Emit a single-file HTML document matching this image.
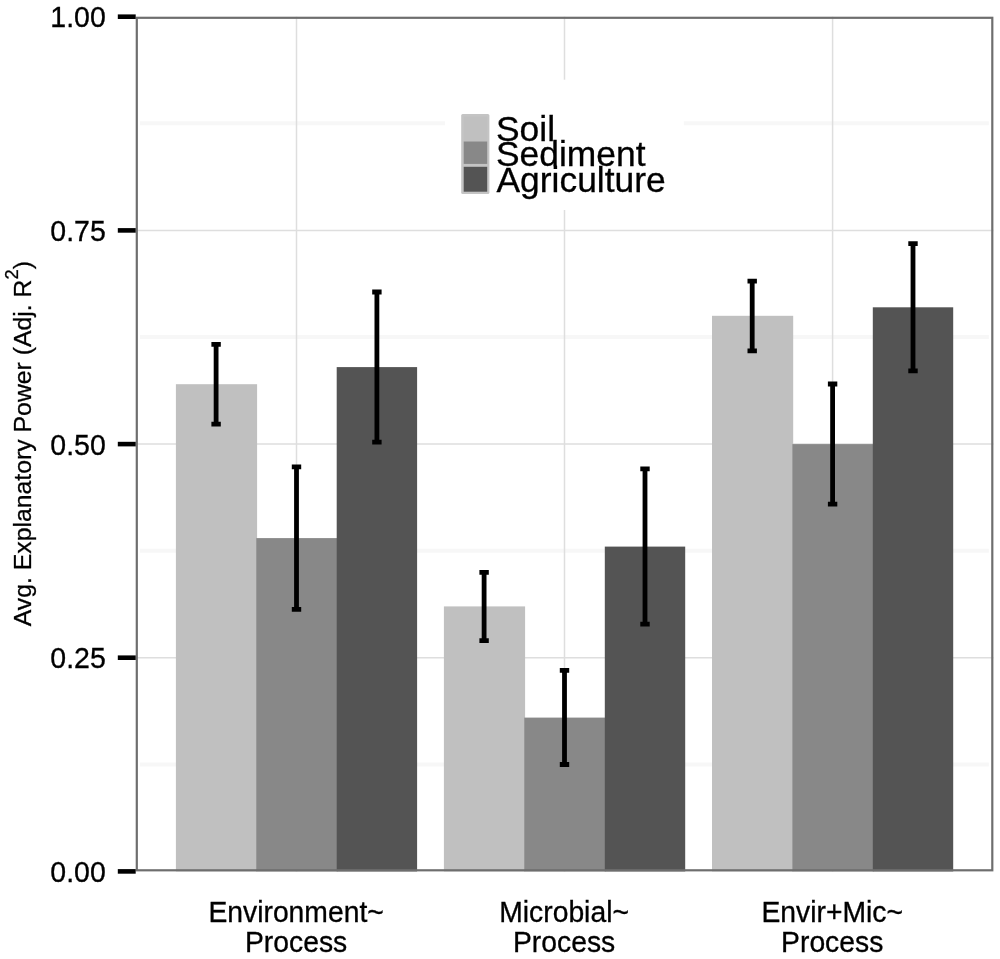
<!DOCTYPE html>
<html><head><meta charset="utf-8"><title>Figure</title>
<style>
html,body{margin:0;padding:0;background:#fff}
svg{display:block;will-change:transform;filter:grayscale(1) blur(.45px)}
text{font-family:"Liberation Sans",Arial,Helvetica,sans-serif;fill:#000;stroke:#000;stroke-width:.3px}
</style></head><body>
<svg width="1000" height="959" viewBox="0 0 1000 959">
<rect width="1000" height="959" fill="#fff"/>
<g stroke="#f7f7f7" stroke-width="4">
<line x1="140" x2="988.8" y1="764.4" y2="764.4"/>
<line x1="140" x2="988.8" y1="550.7" y2="550.7"/>
<line x1="140" x2="988.8" y1="337.0" y2="337.0"/>
<line x1="140" x2="988.8" y1="123.3" y2="123.3"/>
</g>
<g stroke="#dedede" stroke-width="1.5">
<line x1="135.7" x2="993.4" y1="657.7" y2="657.7"/>
<line x1="135.7" x2="993.4" y1="444.1" y2="444.1"/>
<line x1="135.7" x2="993.4" y1="230.4" y2="230.4"/>
<line x1="296.5" x2="296.5" y1="16.7" y2="871.4"/>
<line x1="564.5" x2="564.5" y1="16.7" y2="871.4"/>
<line x1="832.6" x2="832.6" y1="16.7" y2="871.4"/>
</g>
<rect x="175.9" y="384.2" width="81.2" height="487.2" fill="#c0c0c0"/>
<rect x="256.3" y="538.1" width="81.2" height="333.3" fill="#888888"/>
<rect x="336.7" y="367.1" width="80.4" height="504.3" fill="#545454"/>
<rect x="443.9" y="606.4" width="81.2" height="265.0" fill="#c0c0c0"/>
<rect x="524.3" y="717.6" width="81.2" height="153.8" fill="#888888"/>
<rect x="604.8" y="546.6" width="80.4" height="324.8" fill="#545454"/>
<rect x="712.0" y="315.8" width="81.2" height="555.6" fill="#c0c0c0"/>
<rect x="792.4" y="444.1" width="81.2" height="427.3" fill="#888888"/>
<rect x="872.8" y="307.3" width="80.4" height="564.1" fill="#545454"/>
<g stroke="#000" stroke-width="4.8" fill="none">
<path d="M211.4 344.4H220.8M211.4 424.1H220.8M216.1 344.4V424.1"/>
<path d="M291.8 466.8H301.2M291.8 609.4H301.2M296.5 466.8V609.4"/>
<path d="M372.2 292.0H381.6M372.2 442.1H381.6M376.9 292.0V442.1"/>
<path d="M479.4 572.3H488.8M479.4 640.7H488.8M484.1 572.3V640.7"/>
<path d="M559.8 670.4H569.2M559.8 764.5H569.2M564.5 670.4V764.5"/>
<path d="M640.3 468.8H649.7M640.3 624.2H649.7M645.0 468.8V624.2"/>
<path d="M747.5 281.1H756.9M747.5 350.8H756.9M752.2 281.1V350.8"/>
<path d="M827.9 384.0H837.3M827.9 504.2H837.3M832.6 384.0V504.2"/>
<path d="M908.3 243.6H917.7M908.3 370.8H917.7M913.0 243.6V370.8"/>
</g>
<rect x="445" y="79.7" width="238.8" height="130.3" fill="#fff"/>
<rect x="461.2" y="114" width="28.2" height="80" rx="1.5" fill="#c4c4c4"/>
<rect x="463.7" y="116.4" width="23.5" height="25.1" fill="#c0c0c0"/>
<rect x="463.7" y="141.5" width="23.5" height="22.4" fill="#888888"/>
<rect x="463.7" y="166.8" width="23.5" height="24.9" fill="#545454"/>
<text x="496.0" y="140.6" font-size="35.4">Soil</text>
<text x="496.0" y="166.2" font-size="35.4">Sediment</text>
<text x="496.5" y="192.2" font-size="35.4">Agriculture</text>
<rect x="136.8" y="17.8" width="855.5" height="852.5" fill="none" stroke="#6e6e6e" stroke-width="2.2"/>
<g stroke="#000" stroke-width="4.6">
<line x1="117.8" x2="135.7" y1="871.4" y2="871.4"/>
<line x1="117.8" x2="135.7" y1="657.7" y2="657.7"/>
<line x1="117.8" x2="135.7" y1="444.1" y2="444.1"/>
<line x1="117.8" x2="135.7" y1="230.4" y2="230.4"/>
<line x1="117.8" x2="135.7" y1="16.7" y2="16.7"/>
</g>
<g font-size="28.5" text-anchor="end">
<text transform="translate(105.8 881.9) scale(1 1.06)">0.00</text>
<text transform="translate(105.8 668.2) scale(1 1.06)">0.25</text>
<text transform="translate(105.8 454.6) scale(1 1.06)">0.50</text>
<text transform="translate(105.8 240.9) scale(1 1.06)">0.75</text>
<text transform="translate(105.8 27.2) scale(1 1.06)">1.00</text>
</g>
<g font-size="28.3" text-anchor="middle">
<text transform="translate(296.1 921.7) scale(1 1.03)">Environment~</text>
<text transform="translate(296.1 951.7) scale(1 1.03)">Process</text>
<text transform="translate(564.1 921.7) scale(1 1.03)">Microbial~</text>
<text transform="translate(564.1 951.7) scale(1 1.03)">Process</text>
<text transform="translate(832.2 921.7) scale(1 1.03)">Envir+Mic~</text>
<text transform="translate(832.2 951.7) scale(1 1.03)">Process</text>
</g>
<text transform="translate(30.5 443.7) rotate(-90)" font-size="24.8" text-anchor="middle">Avg. Explanatory Power (Adj. R<tspan font-size="18.3" dy="-12.3">2</tspan><tspan dy="12.3">)</tspan></text>
</svg>
</body></html>
